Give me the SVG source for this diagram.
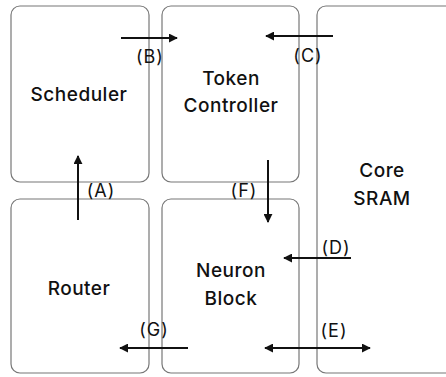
<svg xmlns="http://www.w3.org/2000/svg" width="446" height="377" viewBox="0 0 446 377">
<defs>
<marker id="ah" viewBox="0 0 10 10" refX="9" refY="5" markerWidth="4.5" markerHeight="4.5" orient="auto-start-reverse" markerUnits="strokeWidth">
<path d="M0,0 L10,5 L0,10 Z" fill="#111"/>
</marker>
<style>
.box{fill:#fff;stroke:#777;stroke-width:1.2}
.t{font-family:Inter,"Open Sans",sans-serif;font-size:19px;font-weight:500;fill:#111;text-anchor:middle;letter-spacing:0.5px}
.l{font-family:Inter,"Open Sans",sans-serif;font-size:18px;font-weight:400;fill:#111;text-anchor:middle;letter-spacing:1px}
.c{stroke:#111;stroke-width:2;fill:none}
</style>
</defs>
<rect width="446" height="377" fill="#fff"/>
<g id="scheduler"><rect class="box" x="11" y="6" width="138" height="176" rx="9"/><text class="t" x="79" y="101">Scheduler</text></g>
<g id="token-controller"><rect class="box" x="162" y="6" width="137" height="176" rx="9"/><text class="t" x="231" y="85">Token</text><text class="t" x="231" y="112">Controller</text></g>
<g id="core-sram"><rect class="box" x="317" y="6" width="150" height="367" rx="9"/><text class="t" x="382" y="177">Core</text><text class="t" x="382" y="205">SRAM</text></g>
<g id="router"><rect class="box" x="11" y="199" width="138" height="174" rx="9"/><text class="t" x="79" y="295">Router</text></g>
<g id="neuron-block"><rect class="box" x="162" y="199" width="137" height="174" rx="9"/><text class="t" x="231" y="277">Neuron</text><text class="t" x="231" y="305">Block</text></g>
<g id="connectors">
<line class="c" x1="78" y1="220" x2="78" y2="156" marker-end="url(#ah)"/>
<text class="l" x="101" y="197">(A)</text>
<line class="c" x1="121" y1="38" x2="177" y2="38" marker-end="url(#ah)"/>
<text class="l" x="150" y="63">(B)</text>
<line class="c" x1="333" y1="36" x2="266" y2="36" marker-end="url(#ah)"/>
<text class="l" x="308" y="62">(C)</text>
<line class="c" x1="351" y1="258" x2="284" y2="258" marker-end="url(#ah)"/>
<text class="l" x="336" y="254">(D)</text>
<line class="c" x1="265" y1="348" x2="370" y2="348" marker-start="url(#ah)" marker-end="url(#ah)"/>
<text class="l" x="334" y="337">(E)</text>
<line class="c" x1="268" y1="160" x2="268" y2="222" marker-end="url(#ah)"/>
<text class="l" x="244" y="197">(F)</text>
<line class="c" x1="188" y1="348" x2="120" y2="348" marker-end="url(#ah)"/>
<text class="l" x="154" y="336">(G)</text>
</g>
</svg>
